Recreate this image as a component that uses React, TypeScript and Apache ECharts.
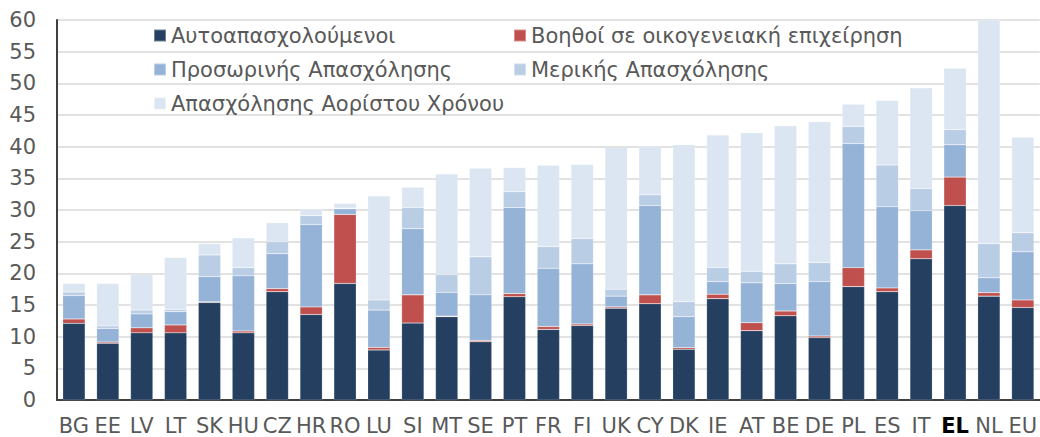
import React, { useEffect, useRef } from "react";
import * as echarts from "echarts";

const categories = ["BG","EE","LV","LT","SK","HU","CZ","HR","RO","LU","SI","MT","SE","PT","FR","FI","UK","CY","DK","IE","AT","BE","DE","PL","ES","IT","EL","NL","EU"];
const seriesNames = ["Αυτοαπασχολούμενοι","Βοηθοί σε οικογενειακή επιχείρηση","Προσωρινής Απασχόλησης","Μερικής Απασχόλησης","Απασχόλησης Αορίστου Χρόνου"];
const selfEmployed = [12.1,8.95,10.6,10.6,15.4,10.6,17.1,13.5,18.4,7.9,12.15,13.15,9.2,16.3,11.15,11.75,14.5,15.2,8.0,16.0,10.95,13.3,9.85,17.9,17.1,22.3,30.7,16.4,14.6];
const familyHelpers = [0.7,0.2,0.8,1.25,0.1,0.3,0.5,1.2,10.9,0.4,4.45,0.1,0.2,0.5,0.45,0.25,0.2,1.4,0.26,0.7,1.25,0.75,0.25,3.0,0.6,1.4,4.5,0.55,1.2];
const temporary = [3.7,2.15,2.2,2.1,4.0,8.7,5.5,13.0,0.9,5.9,10.45,3.75,7.2,13.6,9.2,9.5,1.7,14.1,4.9,2.0,6.3,4.35,8.6,19.6,12.8,6.2,5.1,2.35,7.6];
const partTime = [0.55,0.4,0.6,0.35,3.4,1.3,1.9,1.4,0.1,1.6,3.35,2.8,6.0,2.5,3.4,4.0,1.1,1.7,2.35,2.2,1.8,3.1,3.0,2.7,6.6,3.5,2.4,5.4,3.0];
const indefinite = [1.35,6.7,5.6,8.2,1.8,4.7,3.0,1.0,0.75,16.4,3.2,15.9,14.0,3.8,12.85,11.7,22.35,7.7,24.8,20.95,21.9,21.8,22.25,3.5,10.2,15.9,9.7,36.3,15.1];
const yTicks = [0,5,10,15,20,25,30,35,40,45,50,55,60];

const colors = ["#243F60","#C0504D","#95B3D7","#B9CDE5","#DCE6F2"];
const FONT = "DejaVu Sans";

export default function App() {
  const ref = useRef<HTMLDivElement>(null);
  useEffect(() => {
    document.body.style.margin = "0";
    const chart = echarts.init(ref.current!, null, { renderer: "svg" });
    const values = [selfEmployed, familyHelpers, temporary, partTime, indefinite];
    const legendText = { color: "#595959", fontSize: 21, fontFamily: FONT, lineHeight: 21 };
    const legendBase = {
      orient: "vertical",
      top: 20,
      itemWidth: 12,
      itemHeight: 12,
      itemGap: 13,
      icon: "rect",
      textStyle: legendText,
    };
    chart.setOption({
      animation: false,
      textStyle: { fontFamily: FONT },
      legend: [
        { ...legendBase, data: [seriesNames[0], seriesNames[2], seriesNames[4]], left: 148 },
        { ...legendBase, data: [seriesNames[1], seriesNames[3]], left: 508 },
      ],
      grid: { left: 57, right: -6, top: 20, bottom: 37, containLabel: false },
      xAxis: {
        type: "category",
        data: categories,
        axisLine: { lineStyle: { color: "#404040", width: 2 } },
        axisTick: { show: false },
        axisLabel: {
          interval: 0,
          margin: 15,
          fontSize: 21,
          lineHeight: 21,
          color: "#595959",
          fontFamily: FONT,
          formatter: (v: string) => (v === "EL" ? "{b|" + v + "}" : v),
          rich: { b: { fontWeight: "bold", color: "#000000", fontSize: 21, lineHeight: 21, fontFamily: FONT } },
        },
      },
      yAxis: {
        type: "value",
        min: yTicks[0],
        max: yTicks[yTicks.length - 1],
        interval: 5,
        axisLine: { show: true, lineStyle: { color: "#404040", width: 2 } },
        axisTick: { show: false },
        axisLabel: { fontSize: 21, color: "#595959", margin: 21, fontFamily: FONT },
        splitLine: { lineStyle: { color: "#D9D9D9", width: 1.5 } },
      },
      series: seriesNames.map((name, i) => ({
        name,
        type: "bar",
        stack: "total",
        data: values[i],
        barWidth: "66%",
        clip: true,
        itemStyle: { color: colors[i], borderColor: "rgba(255,255,255,0.35)", borderWidth: 0.5 },
      })),
    });
    return () => chart.dispose();
  }, []);
  return <div ref={ref} style={{ width: 1040, height: 437 }} />;
}
